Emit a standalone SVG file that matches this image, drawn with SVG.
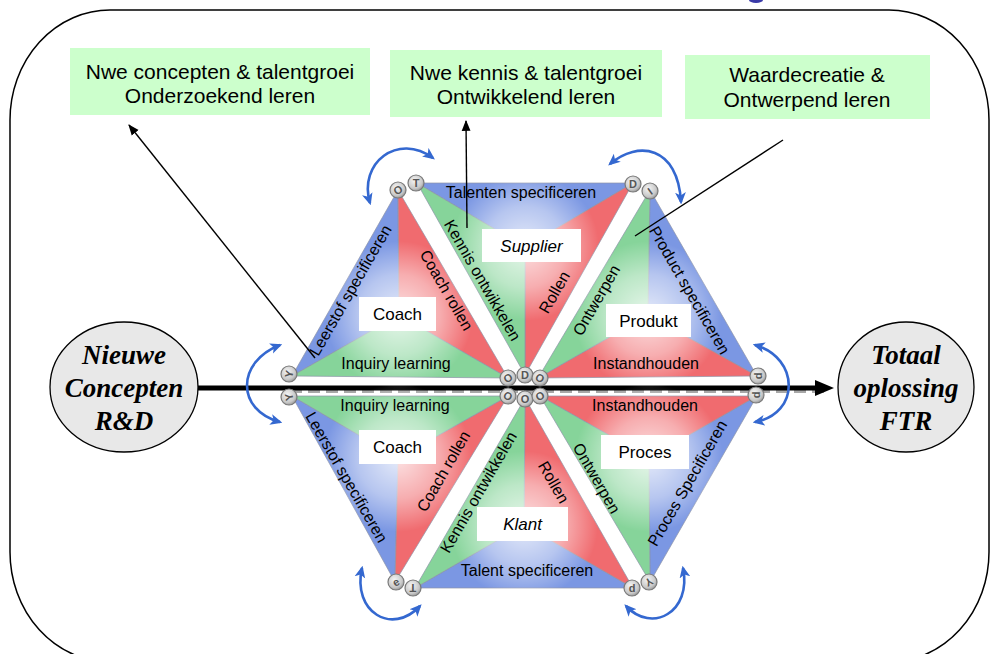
<svg xmlns="http://www.w3.org/2000/svg" width="993" height="654" viewBox="0 0 993 654">
  <defs>
    <style>
      .frame { fill: none; stroke: #000; stroke-width: 1.5; }
      .note rect { fill: #ccffcc; }
      .note text { font-family: "Liberation Sans", Arial, sans-serif; font-size: 21px; fill: #000; text-anchor: middle; }
      .sub { stroke: #8c93a8; stroke-width: 0.7; stroke-linejoin: round; }
      .blue { fill: #7b97e3; }
      .red { fill: #f06b6f; }
      .green { fill: #86d49a; }
      .lbl { font-family: "Liberation Sans", Arial, sans-serif; font-size: 16px; fill: #000; text-anchor: middle; }
      .box rect { fill: #fff; }
      .box text { font-family: "Liberation Sans", Arial, sans-serif; font-size: 17px; fill: #000; text-anchor: middle; }
      .it { font-style: italic; }
      .knob circle { fill: url(#knobFill); stroke: #7a7a7a; stroke-width: 1.2; }
      .knob text { font-family: "Liberation Sans", Arial, sans-serif; font-size: 11px; font-weight: bold; fill: #555; text-anchor: middle; }
      .turn { fill: none; stroke: #3468d0; stroke-width: 2.6; marker-start: url(#blueHead); marker-end: url(#blueHead); }
      .ptr { fill: none; stroke: #000; stroke-width: 1.4; }
      .oval ellipse { fill: #e8e8e8; stroke: #000; stroke-width: 1.3; }
      .oval text { font-family: "Liberation Serif", "Times New Roman", serif; font-size: 27px; font-weight: bold; font-style: italic; fill: #000; text-anchor: middle; }
    </style>
    <radialGradient id="glow">
      <stop offset="0" stop-color="#fff" stop-opacity="0.8"/>
      <stop offset="0.55" stop-color="#fff" stop-opacity="0.45"/>
      <stop offset="1" stop-color="#fff" stop-opacity="0"/>
    </radialGradient>
    <radialGradient id="knobFill" cx="0.4" cy="0.35" r="0.7">
      <stop offset="0" stop-color="#f4f4f4"/>
      <stop offset="0.7" stop-color="#c8c8c8"/>
      <stop offset="1" stop-color="#909090"/>
    </radialGradient>
    <marker id="blueHead" viewBox="0 0 10 10" refX="8" refY="5" markerUnits="userSpaceOnUse" markerWidth="12" markerHeight="12" orient="auto-start-reverse">
      <path d="M0,0.5 L10,5 L0,9.5 L2.5,5 z" fill="#3468d0"/>
    </marker>
    <marker id="blackHead" viewBox="0 0 10 10" refX="9" refY="5" markerUnits="userSpaceOnUse" markerWidth="11" markerHeight="11" orient="auto">
      <path d="M0,1 L10,5 L0,9 z" fill="#000"/>
    </marker>
  </defs>

  <rect width="993" height="654" fill="#fff"/>

  <!-- outer rounded frame -->
  <rect class="frame" x="10" y="10" width="979" height="652" rx="100" ry="110"/>
  <!-- tail of the heading glyph above the frame -->
  <ellipse cx="756" cy="0" rx="7" ry="3" fill="#3a3aa8"/>

  <!-- learning-mode notes -->
  <g id="note-onderzoekend" class="note">
    <rect x="70" y="48" width="300" height="67"/>
    <text x="220" y="79">Nwe concepten &amp; talentgroei</text>
    <text x="220" y="103">Onderzoekend leren</text>
  </g>
  <g id="note-ontwikkelend" class="note">
    <rect x="390" y="50" width="272" height="67"/>
    <text x="526" y="80">Nwe kennis &amp; talentgroei</text>
    <text x="526" y="104">Ontwikkelend leren</text>
  </g>
  <g id="note-ontwerpend" class="note">
    <rect x="685" y="55" width="245" height="64"/>
    <text x="807" y="82">Waardecreatie &amp;</text>
    <text x="807" y="107">Ontwerpend leren</text>
  </g>

  <!-- main flow arrow (drawn under the hexagon labels) -->
  <g id="flow">
    <line x1="290" y1="391.5" x2="830" y2="391.5" stroke="#a8a8a8" stroke-width="3" stroke-dasharray="12 6"/>
    <line x1="198" y1="388" x2="818" y2="388" stroke="#000" stroke-width="5"/>
    <polygon points="834,388 815,380 815,396" fill="#000"/>
  </g>

  <!-- top-left triangle: Coach -->
  <g id="tri-coach-top">
    <polygon class="sub blue" points="292,376 398,190 399,315"/>
    <polygon class="sub red" points="398,190 508,378 399,315"/>
    <polygon class="sub green" points="508,378 292,376 399,315"/>
    <circle cx="399" cy="315" r="74" fill="url(#glow)"/>
    <text class="lbl" x="350" y="296" transform="rotate(-60 350 290)">Leerstof specificeren</text>
    <text class="lbl" x="396" y="369">Inquiry learning</text>
    <text class="lbl" x="447" y="296" transform="rotate(60 447 290)">Coach rollen</text>
    <g class="box"><rect x="359" y="297" width="77" height="34"/><text x="397.5" y="320">Coach</text></g>
  </g>

  <!-- top triangle: Supplier -->
  <g id="tri-supplier">
    <polygon class="sub blue" points="417,183 633,183 525,247"/>
    <polygon class="sub red" points="633,183 525,375 525,247"/>
    <polygon class="sub green" points="525,375 417,183 525,247"/>
    <circle cx="525" cy="247" r="74" fill="url(#glow)"/>
    <text class="lbl" x="521" y="198">Talenten specificeren</text>
    <text class="lbl" x="483" y="286" transform="rotate(60 483 280)">Kennis ontwikkelen</text>
    <text class="lbl" x="554" y="298" transform="rotate(-60 554 292)">Rollen</text>
    <g class="box"><rect x="482" y="229" width="99" height="33"/><text class="it" x="531.5" y="252">Supplier</text></g>
  </g>

  <!-- top-right triangle: Produkt -->
  <g id="tri-produkt">
    <polygon class="sub blue" points="650,190 757,376 648,315"/>
    <polygon class="sub red" points="757,376 538,378 648,315"/>
    <polygon class="sub green" points="538,378 650,190 648,315"/>
    <circle cx="648" cy="315" r="74" fill="url(#glow)"/>
    <text class="lbl" x="596" y="306" transform="rotate(-60 596 300)">Ontwerpen</text>
    <text class="lbl" x="690" y="296" transform="rotate(60 690 290)">Product specificeren</text>
    <text class="lbl" x="646" y="369">Instandhouden</text>
    <g class="box"><rect x="606" y="304" width="85" height="33"/><text x="648.5" y="327">Produkt</text></g>
  </g>

  <!-- bottom-left triangle: Coach -->
  <g id="tri-coach-bottom">
    <polygon class="sub blue" points="292,396 395,582 398,458"/>
    <polygon class="sub red" points="395,582 508,396 398,458"/>
    <polygon class="sub green" points="508,396 292,396 398,458"/>
    <circle cx="398" cy="458" r="74" fill="url(#glow)"/>
    <text class="lbl" x="395" y="411">Inquiry learning</text>
    <text class="lbl" x="347" y="483" transform="rotate(60 347 477)">Leerstof specificeren</text>
    <text class="lbl" x="443" y="477" transform="rotate(-60 443 471)">Coach rollen</text>
    <g class="box"><rect x="359" y="430" width="77" height="34"/><text x="397.5" y="453">Coach</text></g>
  </g>

  <!-- bottom triangle: Klant -->
  <g id="tri-klant">
    <polygon class="sub blue" points="415,588 633,588 524,525"/>
    <polygon class="sub red" points="633,588 525,398 524,525"/>
    <polygon class="sub green" points="525,398 415,588 524,525"/>
    <circle cx="524" cy="525" r="74" fill="url(#glow)"/>
    <text class="lbl" x="527" y="576">Talent specificeren</text>
    <text class="lbl" x="478" y="498" transform="rotate(-60 478 492)">Kennis ontwikkelen</text>
    <text class="lbl" x="554" y="488" transform="rotate(60 554 482)">Rollen</text>
    <g class="box"><rect x="477" y="507" width="91" height="34"/><text class="it" x="522.5" y="530">Klant</text></g>
  </g>

  <!-- bottom-right triangle: Proces -->
  <g id="tri-proces">
    <polygon class="sub blue" points="650,582 757,396 649,458"/>
    <polygon class="sub red" points="757,396 540,396 649,458"/>
    <polygon class="sub green" points="540,396 650,582 649,458"/>
    <circle cx="649" cy="458" r="74" fill="url(#glow)"/>
    <text class="lbl" x="645" y="411">Instandhouden</text>
    <text class="lbl" x="597" y="484" transform="rotate(60 597 478)">Ontwerpen</text>
    <text class="lbl" x="687" y="489" transform="rotate(-60 687 483)">Proces Specificeren</text>
    <g class="box"><rect x="601" y="435" width="88" height="34"/><text x="645" y="458">Proces</text></g>
  </g>

  <!-- hinge knobs at the triangle corners -->
  <g id="knobs" class="knob">
    <g transform="translate(398,190)"><circle r="8"/><text y="4" transform="rotate(-30)">O</text></g>
    <g transform="translate(416,183)"><circle r="8"/><text y="4">T</text></g>
    <g transform="translate(633,184)"><circle r="8"/><text y="4">D</text></g>
    <g transform="translate(650,191)"><circle r="8"/><text y="4" transform="rotate(-35)">I</text></g>
    <g transform="translate(289,374)"><circle r="8"/><text y="4" transform="rotate(-80)">Y</text></g>
    <g transform="translate(289,397)"><circle r="8"/><text y="4" transform="rotate(-100)">Y</text></g>
    <g transform="translate(508,378)"><circle r="8"/><text y="4" transform="rotate(-30)">O</text></g>
    <g transform="translate(525,375)"><circle r="8"/><text y="4">D</text></g>
    <g transform="translate(540,378)"><circle r="8"/><text y="4" transform="rotate(30)">O</text></g>
    <g transform="translate(508,396)"><circle r="8"/><text y="4" transform="rotate(30)">O</text></g>
    <g transform="translate(525,399)"><circle r="8"/><text y="4">O</text></g>
    <g transform="translate(540,396)"><circle r="8"/><text y="4" transform="rotate(-30)">O</text></g>
    <g transform="translate(758,376)"><circle r="8"/><text y="4" transform="rotate(-90)">d</text></g>
    <g transform="translate(756,395)"><circle r="8"/><text y="4" transform="rotate(-90)">d</text></g>
    <g transform="translate(396,582)"><circle r="8"/><text y="4" transform="rotate(-30)">e</text></g>
    <g transform="translate(413,588)"><circle r="8"/><text y="4" transform="rotate(180)">T</text></g>
    <g transform="translate(632,588)"><circle r="8"/><text y="4">d</text></g>
    <g transform="translate(649,582)"><circle r="8"/><text y="4" transform="rotate(150)">Y</text></g>
  </g>

  <!-- rotation arrows around the outer corners -->
  <g id="turns">
    <path class="turn" d="M370,203 C358,163 398,132 433,158"/>
    <path class="turn" d="M610,164 C638,140 678,146 681,202"/>
    <path class="turn" d="M280,345 C236,362 236,410 280,422"/>
    <path class="turn" d="M755,345 C800,358 800,414 755,422"/>
    <path class="turn" d="M362,568 C352,612 392,636 420,606"/>
    <path class="turn" d="M683,568 C692,612 652,634 626,606"/>
  </g>

  <!-- pointers to the learning-mode notes -->
  <g id="pointers">
    <line class="ptr" x1="315" y1="358" x2="129" y2="125" marker-end="url(#blackHead)"/>
    <line class="ptr" x1="467" y1="228" x2="466" y2="121" marker-end="url(#blackHead)"/>
    <line class="ptr" x1="635" y1="236" x2="783" y2="140"/>
  </g>

  <!-- start and end of the flow -->
  <g id="oval-start" class="oval">
    <ellipse cx="124" cy="387" rx="74" ry="65"/>
    <text x="124" y="364">Nieuwe</text>
    <text x="124" y="397">Concepten</text>
    <text x="124" y="430">R&amp;D</text>
  </g>
  <g id="oval-end" class="oval">
    <ellipse cx="906" cy="387" rx="68" ry="65"/>
    <text x="906" y="364">Totaal</text>
    <text x="906" y="397">oplossing</text>
    <text x="906" y="430">FTR</text>
  </g>
</svg>
